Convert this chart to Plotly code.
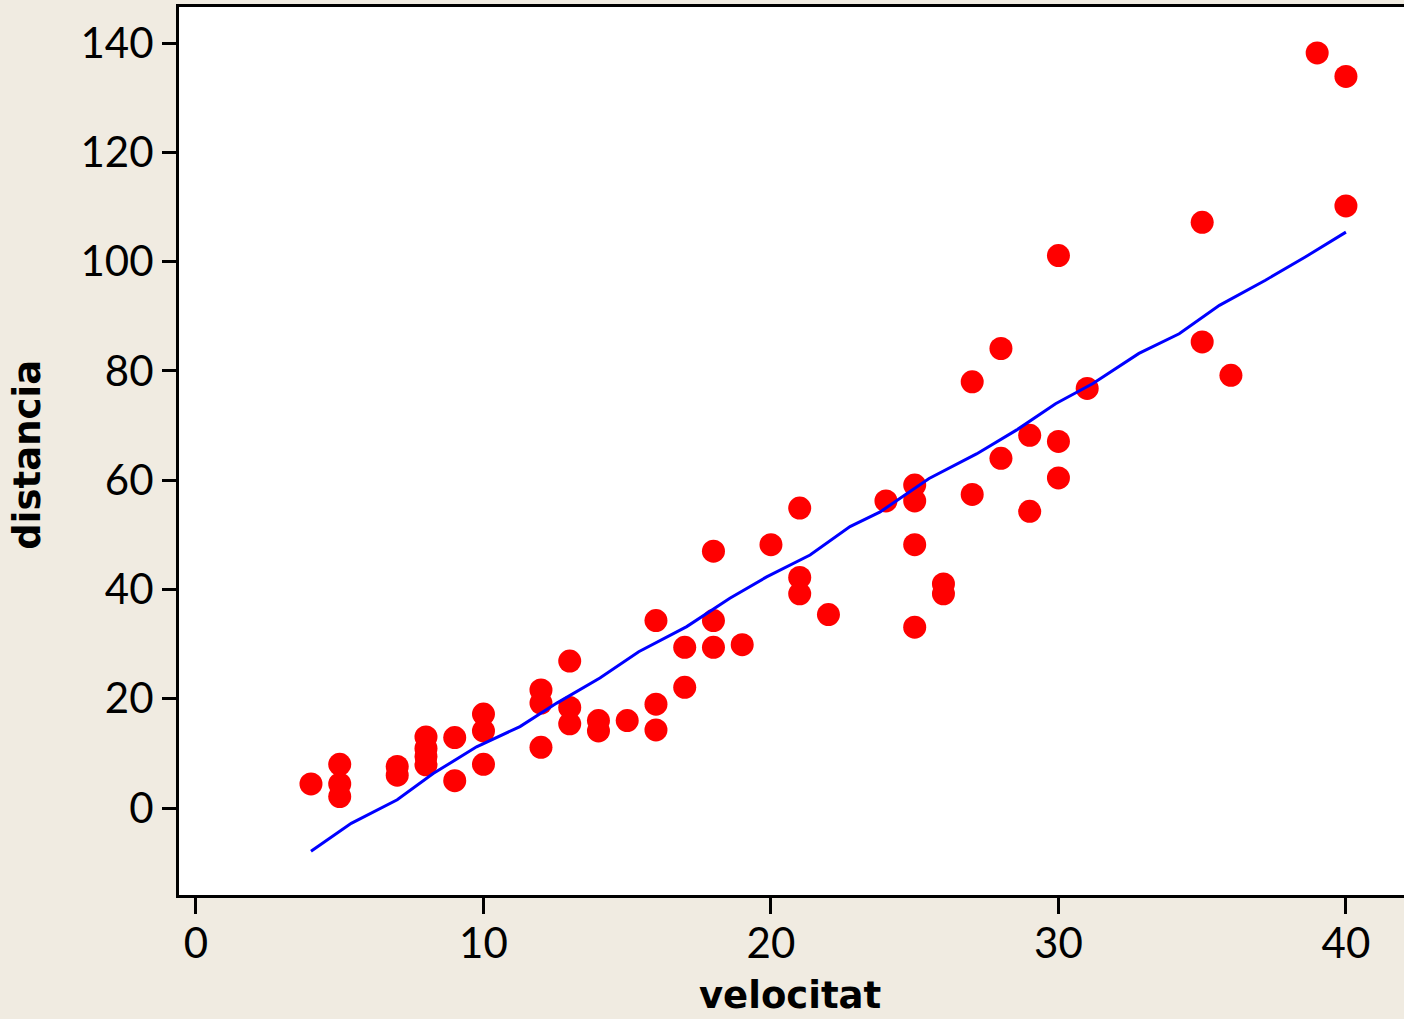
import plotly.graph_objects as go

# Scatter data (velocitat, distancia)
velocitat = [4, 5, 5, 5, 7, 7, 8, 8, 8, 8, 9, 9, 10, 10, 10, 12, 12, 12, 13, 13, 13,
             14, 14, 15, 16, 16, 16, 17, 17, 18, 18, 18, 19, 20, 21, 21, 21, 22, 24,
             25, 25, 25, 25, 26, 26, 27, 27, 28, 28, 29, 29, 30, 30, 30, 31, 35, 35,
             36, 39, 40, 40]
distancia = [4.4, 8.0, 4.4, 2.1, 7.6, 6.0, 13.0, 10.9, 9.4, 7.9, 12.9, 5.0, 17.2, 14.1, 8.0,
             21.6, 19.2, 11.1, 26.9, 18.4, 15.4, 16.0, 14.1, 16.0, 34.3, 19.0, 14.3,
             29.4, 22.1, 47.0, 34.3, 29.4, 29.9, 48.2, 54.9, 42.2, 39.2, 35.4, 56.2,
             59.1, 56.2, 48.2, 33.1, 41.0, 39.2, 78.0, 57.4, 84.1, 64.0, 68.2, 54.3,
             101.1, 67.1, 60.4, 76.8, 107.2, 85.3, 79.2, 138.2, 133.9, 110.2]

# Smoothed fit line
fit_x = [4.0, 5.4, 7.0, 8.25, 9.76, 11.27, 12.55, 14.05, 15.4, 17.07, 18.57, 19.85,
         21.36, 22.75, 23.8, 25.5, 27.15, 28.55, 29.9, 31.2, 32.8, 34.2, 35.6, 37.2,
         38.6, 40.0]
fit_y = [-7.9, -2.8, 1.5, 6.3, 11.2, 14.9, 19.2, 23.8, 28.6, 33.2, 38.4, 42.3,
         46.3, 51.5, 54.2, 60.3, 64.8, 69.2, 74.0, 77.7, 83.2, 86.8, 92.0, 96.6,
         100.9, 105.4]

x_ticks = [0, 10, 20, 30, 40]
y_ticks = [0, 20, 40, 60, 80, 100, 120, 140]

TICK_FONT = "Lato"
TITLE_FONT = "DejaVu Sans"

fig = go.Figure()
fig.add_trace(go.Scatter(x=velocitat, y=distancia, mode="markers",
                         marker=dict(size=23, color="#FF0000", line=dict(width=0)),
                         showlegend=False))
fig.add_trace(go.Scatter(x=fit_x, y=fit_y, mode="lines",
                         line=dict(color="#0000FF", width=3),
                         showlegend=False))

fig.update_layout(
    width=1404, height=1019,
    margin=dict(l=179, r=0, t=7, b=124),
    paper_bgcolor="#F0EBE1",
    plot_bgcolor="#FFFFFF",
    font=dict(family=TICK_FONT, color="#000000"),
    xaxis=dict(range=[-0.591, 42.02], tickvals=x_ticks, ticktext=[str(v) for v in x_ticks],
               showgrid=False, zeroline=False, showline=True, linecolor="#000000",
               linewidth=3, mirror=True, ticks="outside", ticklen=16, tickwidth=3,
               ticklabelstandoff=-6,
               tickcolor="#000000", tickfont=dict(size=42, family=TICK_FONT)),
    yaxis=dict(range=[-15.92, 146.6], tickvals=y_ticks, ticktext=[str(v) for v in y_ticks],
               showgrid=False, zeroline=False, showline=True, linecolor="#000000",
               linewidth=3, mirror=False, ticks="outside", ticklen=14, tickwidth=3,
               tickcolor="#000000", tickfont=dict(size=42, family=TICK_FONT)),
    annotations=[
        dict(text="<b>distancia</b>", xref="paper", yref="paper", x=-0.124, y=0.496,
             xanchor="center", yanchor="middle", textangle=-90, showarrow=False,
             font=dict(size=37, family=TITLE_FONT)),
        dict(text="<b>velocitat</b>", xref="paper", yref="paper", x=0.499, y=-0.1396,
             xanchor="center", yanchor="bottom", showarrow=False,
             font=dict(size=37, family=TITLE_FONT)),
    ],
)

fig.write_html("out.html")
